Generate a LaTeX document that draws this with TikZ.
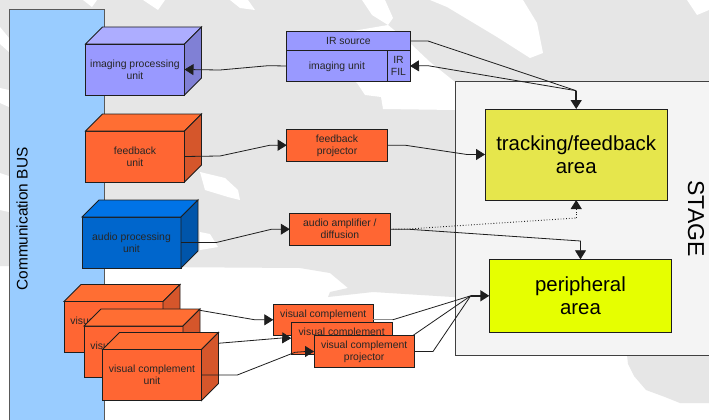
\documentclass[tikz,border=0pt]{standalone}
\usepackage{fontspec}
\setmainfont{Liberation Sans}
\usetikzlibrary{arrows.meta,calc}
\definecolor{bgGray}{HTML}{E6E6E6}
\definecolor{busBlue}{HTML}{99CCFF}
\definecolor{stageFill}{HTML}{F4F4F4}
\definecolor{lineDark}{HTML}{1E1E1E}
\definecolor{purpleF}{HTML}{9999FF}
\definecolor{purpleT}{HTML}{ADADFF}
\definecolor{purpleS}{HTML}{8080D5}
\definecolor{orangeF}{HTML}{FF6633}
\definecolor{orangeT}{HTML}{FF6E33}
\definecolor{orangeS}{HTML}{D5562B}
\definecolor{blueF}{HTML}{0066CC}
\definecolor{blueT}{HTML}{0073E6}
\definecolor{blueS}{HTML}{0055AA}
\definecolor{trackY}{HTML}{E6E64C}
\definecolor{periY}{HTML}{E6FF00}
\tikzset{
  x=1pt,y=-1pt,
  every node/.style={inner sep=0pt,outer sep=0pt},
  bound/.style={draw=lineDark,line width=0.9pt},
  smalltxt/.style={font=\fontsize{10.4}{12}\selectfont,align=center,text=black!85},
  bigtxt/.style={font=\fontsize{20.4}{23}\selectfont,align=center},
  unitface/.style={bound,smalltxt,minimum width=99pt,minimum height=51pt},
  projbox/.style={bound,font=\fontsize{10.4}{12}\selectfont,text=black!85},
  link/.style={draw=lineDark,line width=0.8pt},
  arrowlink/.style={link,-{Triangle[length=9pt,width=11pt]}},
  blot/.style={fill=white,draw=none},
}
\newcommand{\ptxt}[1]{\raisebox{-1pt}[\height][\depth]{\begin{tabular}{@{}c@{}}#1\end{tabular}}}
\newcommand{\cubeat}[6]{% name, cx, cy, colour stem, text, depth
  \node[unitface,fill=#4F] (#1) at (#2,#3) {#5};
  \draw[bound,fill=#4T] (#1.north west) -- ++(#6,-#6) -- ++(99,0) -- (#1.north east) -- cycle;
  \draw[bound,fill=#4S] (#1.north east) -- ++(#6,-#6) -- ++(0,51) -- (#1.south east) -- cycle;
}
\begin{document}
\begin{tikzpicture}
\useasboundingbox (0,0) rectangle (709,420);
% background map
\fill[white] (0,0) rectangle (709,420);
\fill[bgGray] (0,0) -- (709,0) -- (709,300) -- (453,297) -- (373,292) -- (328,297) -- (330,292) -- (348,288) -- (330,273) -- (300,268) -- (0,266) -- cycle;
\fill[bgGray] (627,355) -- (628,364) -- (634,376) -- (646,390) -- (665,397) -- (680,403) -- (709,403) -- (709,355) -- cycle;
\fill[blot] (0,27) -- (9,38) -- (9,52) -- (0,44) -- cycle;
\fill[blot] (0,88) -- (9,90) -- (9,107) -- (0,103) -- cycle;
\fill[blot] (0,173) -- (9,176) -- (9,212) -- (0,210) -- cycle;
\fill[blot] (83,0) -- (97,0) -- (92,7) -- cycle;
\fill[blot] (143,0) -- (165,0) -- (158,10) -- cycle;
\fill[blot] (230,0) -- (248,0) -- (255,10) -- (240,8) -- cycle;
\fill[blot] (362,0) -- (385,0) -- (393,18) -- (388,25) -- (372,15) -- cycle;
\fill[blot] (300,40) -- (388,25) -- (412,45) -- (430,62) -- (455,82) -- (455,110) -- (383,109) -- (381,97) -- (365,95) -- (357,83) -- cycle;
\fill[blot] (430,0) -- (447,7) -- (497,37) -- (530,58) -- (543,53) -- (537,23) -- (523,0) -- cycle;
\fill[blot] (687,0) -- (697,15) -- (709,10) -- (709,0) -- cycle;
\fill[blot] (200,172) -- (225,178) -- (238,190) -- (240,200) -- (228,197) -- (205,190) -- cycle;
\fill[blot] (200,232) -- (210,234) -- (218,247) -- (200,250) -- cycle;
% bus and stage
\node[bound,draw=black!65,fill=busBlue,minimum width=95.5pt,minimum height=413pt,anchor=north west] (bus) at (9,9) {};
\node[rotate=90,font=\fontsize{15.4}{18}\selectfont] (bustxt) at (22,219) {Communication BUS};
\node[bound,draw=black!75,fill=stageFill,minimum width=260pt,minimum height=273.7pt,anchor=north west] (stage) at (455.5,81.3) {};
\node[rotate=-90,font=\fontsize{23}{26}\selectfont] (stagetxt) at (696,218.5) {STAGE};
\node[bound,fill=trackY,bigtxt,minimum width=182.3pt,minimum height=91pt] (track) at (576.2,154.5) {tracking/feedback\\area};
\node[bound,fill=periY,bigtxt,minimum width=182.4pt,minimum height=73pt] (peri) at (580.5,295.8) {peripheral\\area};
% projectors
\node[projbox,fill=purpleF,minimum width=123.3pt,minimum height=18.3pt] (irsource) at (348.4,41) {\ptxt{IR source}};
\node[projbox,fill=purpleF,minimum width=100.3pt,minimum height=31.7pt] (imgunit) at (336.9,66) {\ptxt{imaging unit}};
\node[projbox,fill=purpleF,minimum width=23pt,minimum height=31.7pt] (irfil) at (398.5,66) {\ptxt{IR\\FIL}};
\node[projbox,fill=orangeF,minimum width=100.6pt,minimum height=32.3pt] (fbproj) at (337,145.2) {\ptxt{feedback\\projector}};
\node[projbox,fill=orangeF,minimum width=100.3pt,minimum height=31.7pt] (audamp) at (339.9,229.2) {\ptxt{audio amplifier /\\diffusion}};
% join points
\coordinate (tj) at (576.2,90.7);
\coordinate (pj) at (470.7,295.8);
% visual complement projectors, back to front
\node[projbox,fill=orangeF,minimum width=100pt,minimum height=31.7pt] (vc1) at (323.3,319.8) {\ptxt{visual complement\\\phantom{projector}}};
\draw[link,draw=black!45,line width=1.3pt] (vc1.east) -- (392.7,319.8);
\draw[link] (392.7,319.8) -- (pj);
\node[projbox,fill=orangeF,minimum width=100.7pt,minimum height=31.7pt] (vc2) at (341.6,338.2) {\ptxt{visual complement\\\phantom{projector}}};
\draw[link] (vc2.east) -- (409,338.2) -- (pj);
\node[projbox,fill=orangeF,minimum width=100.3pt,minimum height=31.7pt] (vc3) at (364.2,351.5) {\ptxt{visual complement\\projector}};
\draw[link] (vc3.east) -- (433,351.5) -- (pj);
\draw[arrowlink,line width=1.5pt] (pj) -- (peri.west);
% units
\cubeat{imgp}{135}{69.5}{purple}{imaging processing\\unit}{17}
\cubeat{fbunit}{135}{156.5}{orange}{feedback\\unit}{17}
\cubeat{audunit}{131.5}{242.5}{blue}{audio processing\\unit}{17}
\cubeat{vis1}{113.5}{327}{orange}{visual complement\\unit}{17}
\draw[arrowlink] (vis1.east) -- (198,310) -- (255,319.8) -- (vc1.west);
\cubeat{vis2}{133.5}{351.5}{orange}{visual complement\\unit}{17}
\draw[arrowlink] (vis2.east) -- (218,343.3) -- (283,337.9) -- (vc2.west);
\cubeat{vis3}{152}{375}{orange}{visual complement\\unit}{17}
% connectors
\draw[arrowlink] (vis3.east) -- (237.3,375) -- (295,352.3) -- (306,351.5) -- (vc3.west);
\draw[arrowlink] (imgunit.west) -- (268,65.7) -- (220,70) -- (imgp.east);
\draw[arrowlink] (fbunit.east) -- (220,156) -- (270,145.2) -- (fbproj.west);
\draw[arrowlink] (audunit.east) -- (216.7,242.4) -- (271.7,229.2) -- (audamp.west);
\draw[arrowlink] (fbproj.east) -- (405,145.2) -- (467,154.5) -- (track.west);
\draw[link] (irsource.east) -- (428,41) -- (tj);
\draw[arrowlink] (tj) -- (428,65.7) -- (irfil.east);
\draw[arrowlink,line width=1.5pt] (tj) -- (track.north);
\draw[link,dotted,line width=0.9pt] (audamp.east) -- (408,229) -- (576.2,218);
\draw[arrowlink,dotted,line width=0.9pt] (576.2,218) -- (track.south);
\draw[arrowlink] (audamp.east) -- (408,229.2) -- (580.5,241) -- (peri.north);
\end{tikzpicture}
\end{document}
